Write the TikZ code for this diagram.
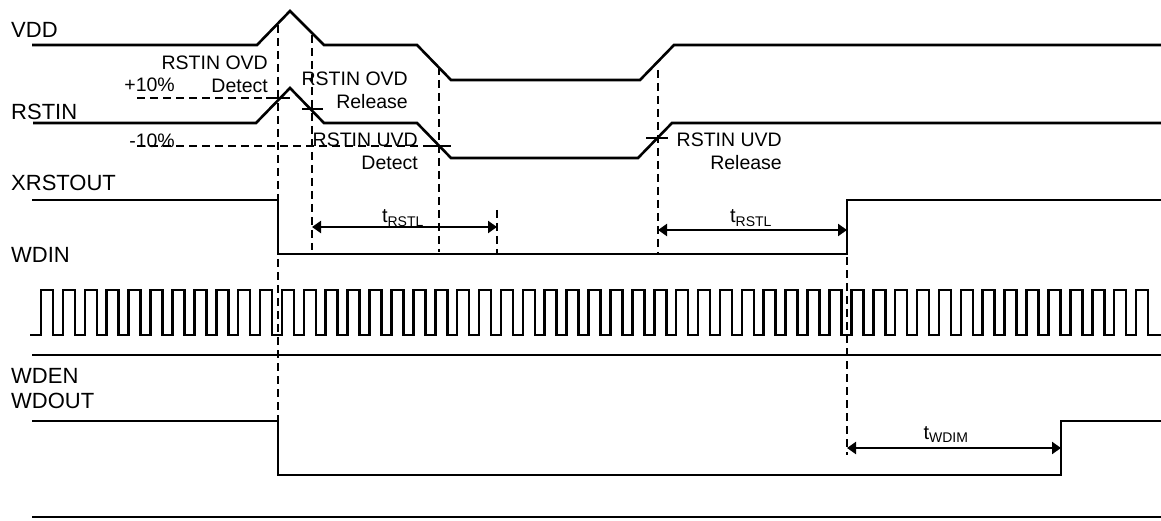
\documentclass[tikz,border=0pt]{standalone}
\usepackage{fontspec}
\setmainfont{Liberation Sans}
\usetikzlibrary{arrows.meta}
\begin{document}
\begin{tikzpicture}[x=1pt,y=-1pt,
  sig/.style={line width=2.6pt, line join=miter},
  guide/.style={line width=2.6pt, dash pattern=on 8pt off 5pt},
  tickmark/.style={line width=2pt},
  dim/.style={line width=2.2pt, {Triangle[length=9pt,width=12pt]}-{Triangle[length=9pt,width=12pt]}},
  lbl/.style={font=\fontsize{22}{25}\selectfont, anchor=west, inner sep=0pt},
  ann/.style={font=\fontsize{19.5}{23}\selectfont, align=right, anchor=east, inner sep=0pt},
  tlab/.style={font=\fontsize{20}{24}\selectfont, anchor=base, inner sep=0pt},
]
\useasboundingbox (0,0) rectangle (1161,521);

% signal names
\node[lbl] (nVDD) at (11,30) {VDD};
\node[lbl] (nRSTIN) at (11,112) {RSTIN};
\node[lbl] (nXRST) at (11,183) {XRSTOUT};
\node[lbl] (nWDIN) at (11,255) {WDIN};
\node[lbl] (nWDEN) at (11,376) {WDEN};
\node[lbl] (nWDOUT) at (11,401) {WDOUT};

% thresholds
\draw[guide] (137,98) -- (278,98);
\draw[guide] (137,146) -- (448,146);
\node[ann] (pten) at (175,85) {+10\%};
\node[ann] (mten) at (175,141) {-10\%};

% annotations
\node[ann] (ovdd) at (268,74.5) {RSTIN OVD\\Detect};
\node[ann] (ovdr) at (408,90.5) {RSTIN OVD\\Release};
\node[ann] (uvdd) at (418,151) {RSTIN UVD\\Detect};
\node[ann] (uvdr) at (782,151) {RSTIN UVD\\Release};

% vertical guides
\draw[guide] (278,25) -- (278,420);
\draw[guide] (312,35) -- (312,250);
\draw[guide] (439,67) -- (439,252);
\draw[guide] (497,210) -- (497,255);
\draw[guide] (658,70) -- (658,253);
\draw[guide] (847,257) -- (847,455);

% crossing ticks
\draw[tickmark] (266,98) -- (290,98);
\draw[tickmark] (302,109) -- (323,109);
\draw[tickmark] (427,146) -- (451,146);
\draw[tickmark] (646,138) -- (668,138);

% VDD
\draw[sig] (32,45) -- (257,45) -- (290,11) -- (324,45) -- (417,45) -- (451,80) -- (640,80) -- (674,45) -- (1161,45);
% RSTIN
\draw[sig] (33,123) -- (256,123) -- (290,88) -- (324,123) -- (417,123) -- (451,158) -- (638,158) -- (672,123) -- (1161,123);
% XRSTOUT
\draw[sig] (32,200) -- (278,200) -- (278,254) -- (847,254) -- (847,200) -- (1161,200);

% tRSTL
\coordinate (a1) at (312,227);
\coordinate (b1) at (497,227);
\draw[dim] (a1) -- (b1);
\node[tlab] (t1) at (403,223) {t\textsubscript{RSTL}};
\coordinate (a2) at (658,230);
\coordinate (b2) at (847,230);
\draw[dim] (a2) -- (b2);
\node[tlab] (t2) at (751,223) {t\textsubscript{RSTL}};

% WDIN clock
\draw[sig] (30,335) foreach \k in {0,...,50} {
  -- ({41+21.9*\k},335) -- ({41+21.9*\k},290) -- ({53+21.9*\k},290) -- ({53+21.9*\k},335)
} -- (1161,335);

% WDEN
\draw[sig] (32,355) -- (1161,355);

% WDOUT
\draw[sig] (32,421) -- (278,421) -- (278,475) -- (1061,475) -- (1061,421) -- (1161,421);
\coordinate (a3) at (847,448);
\coordinate (b3) at (1061,448);
\draw[dim] (a3) -- (b3);
\node[tlab] (t3) at (946,439) {t\textsubscript{WDIM}};

% bottom line
\draw[sig] (32,517) -- (1161,517);
\end{tikzpicture}
\end{document}
